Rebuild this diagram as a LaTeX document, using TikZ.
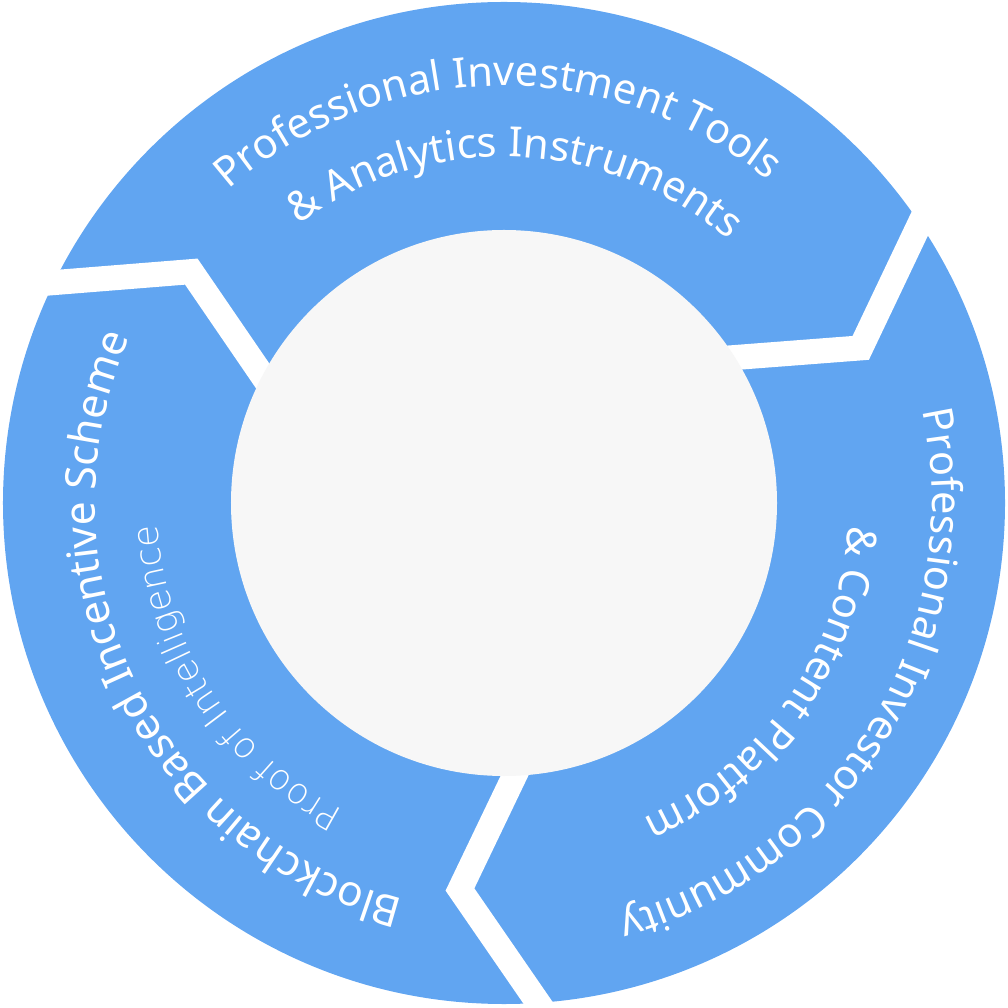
\documentclass[tikz,border=0pt]{standalone}
\usepackage{fontspec}
\IfFontExistsTF{NotoSans-Light.ttf}
    {\setmainfont{NotoSans-Light.ttf}}
    {\setmainfont{Noto Sans}}
\IfFontExistsTF{NotoSans-ExtraLight.ttf}
    {\newfontfamily\thinfont{NotoSans-ExtraLight.ttf}}
    {\IfFontExistsTF{DejaVuSans-ExtraLight.ttf}
        {\newfontfamily\thinfont{DejaVuSans-ExtraLight.ttf}}
        {\newfontfamily\thinfont{Noto Sans}}}
\usetikzlibrary{calc, decorations.text}
\definecolor{ringColor}{RGB}{97, 165, 241}
\definecolor{hubColor}{RGB}{247, 247, 247}
\newcommand\bigLabel{\fontsize{11.8pt}{14pt}\selectfont}
\newcommand\wideLabel{\fontsize{12.1pt}{14pt}\selectfont}
\newcommand\smallLabel{\thinfont\fontsize{10.2pt}{12pt}\selectfont}

\begin{document}
\begin{tikzpicture}[
    ring part/.style={fill=ringColor},
    gap line/.style={draw=white, line width=0.25cm},
    hub part/.style={fill=hubColor},
    ring text/.style={decorate,
        decoration={text along path, text align=center,
            text color=white, text={#1}}},
]

% ---- layout parameters ----
\def\Ro{5.01}       % outer radius
\def\Ri{2.73}       % hub radius
\def\Rk{3.89}       % radius of the kink in each gap

\useasboundingbox (-5.04,-5.05) rectangle (5.04,5.03);

% ---- ring ----
\fill[ring part] (0,0) circle (\Ro);

% ---- gaps between the three parts ----
\foreach \a [count=\k] in {33.9, 153.9, 273.9} {
    \coordinate (out\k) at (\a:\Ro);
    \coordinate (kink\k) at (\a-10.4:\Rk);
    \coordinate (in\k) at (\a-1.7:\Ri);
    \draw[gap line] ($(kink\k)!1.3!(out\k)$) -- (kink\k)
        -- ($(kink\k)!1.3!(in\k)$);
}

% ---- hub ----
\fill[hub part] (0,0) circle (\Ri);

% ---- labels, clockwise along the ring ----
% top part
\path[ring text={|\bigLabel|Professional Investment Tools}]
    (161:4.17) arc[start angle=161, end angle=21, radius=4.17];
\path[ring text={|\bigLabel|{\&} Analytics Instruments}]
    (158:3.46) arc[start angle=158, end angle=18, radius=3.46];

% right part
\path[ring text={|\bigLabel|Professional Investor Community}]
    (39:4.28) arc[start angle=39, end angle=-101, radius=4.28];
\path[ring text={|\bigLabel|{\&} Content Platform}]
    (35:3.45) arc[start angle=35, end angle=-105, radius=3.45];

% left part
\path[ring text={|\wideLabel|Blockchain Based Incentive Scheme}]
    (276:4.09) arc[start angle=276, end angle=136, radius=4.09];
\path[ring text={|\smallLabel|Proof of Intelligence}]
    (283:3.47) arc[start angle=283, end angle=143, radius=3.47];

\end{tikzpicture}
\end{document}
